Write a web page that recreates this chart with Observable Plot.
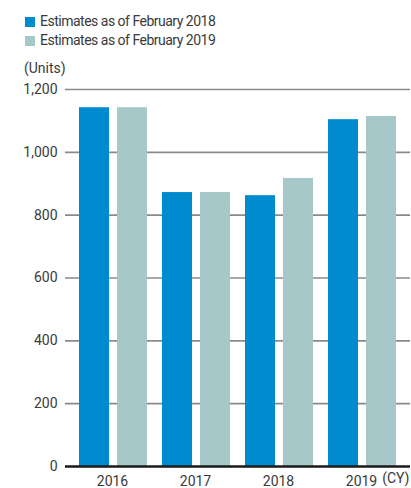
<!DOCTYPE html>
<html>
<head>
<meta charset="utf-8">
<script src="https://cdn.jsdelivr.net/npm/d3@7"></script>
<script src="https://cdn.jsdelivr.net/npm/@observablehq/plot@0.6"></script>
<style>
  html, body { margin: 0; padding: 0; background: #fff; }
  body { width: 411px; height: 488px; overflow: hidden; font-family: Roboto, "Noto Sans", sans-serif; color: #3a3a3a; }
  #head { height: 78px; box-sizing: border-box; padding-top: 12px; font-size: 14px; }
  .row { display: flex; align-items: center; height: 19px; line-height: 19px; padding-left: 25px; letter-spacing: -0.5px; }
  .sw { width: 10px; height: 10px; margin-right: 5px; flex: none; }
  #units { margin-top: 9px; padding-left: 24px; height: 19px; line-height: 19px; }
  svg { display: block; }
</style>
</head>
<body>
<div id="head"></div>
<div id="chart"></div>
<script>
const years = ["2016", "2017", "2018", "2019"];
const feb2018 = [1142, 872, 862, 1104];
const feb2019 = [1142, 872, 917, 1114];
const seriesNames = ["Estimates as of February 2018", "Estimates as of February 2019"];
const seriesColors = ["#008bcf", "#a7c8c9"];
const yTicks = [0, 200, 400, 600, 800, 1000, 1200];
const unitLabel = "(Units)";
const xUnitLabel = "(CY)";

const head = document.getElementById("head");
seriesNames.forEach((name, i) => {
  const row = document.createElement("div");
  row.className = "row";
  const sw = document.createElement("span");
  sw.className = "sw";
  sw.style.background = seriesColors[i];
  const t = document.createElement("span");
  t.textContent = name;
  row.append(sw, t);
  head.append(row);
});
const u = document.createElement("div");
u.id = "units";
u.textContent = unitLabel;
head.append(u);

const rows2018 = years.map((y, i) => ({year: y, value: feb2018[i]}));
const rows2019 = years.map((y, i) => ({year: y, value: feb2019[i]}));
const textColor = "#3a3a3a";

const chart = Plot.plot({
  width: 411,
  height: 410,
  marginTop: 11,
  marginBottom: 22,
  marginLeft: 65,
  marginRight: 1,
  style: {fontFamily: "Roboto, 'Noto Sans', sans-serif", fontSize: "14px", color: textColor, background: "white"},
  x: {type: "band", domain: years, paddingInner: 0.183, paddingOuter: 0.168},
  y: {domain: [0, 1200]},
  marks: [
    Plot.ruleY(yTicks.filter(d => d > 0), {stroke: "#8a8a8a", strokeWidth: 1.7}),
    Plot.barY(rows2018, {x: "year", y: "value", fill: seriesColors[0], insetRight: 38}),
    Plot.barY(rows2019, {x: "year", y: "value", fill: seriesColors[1], insetLeft: 38}),
    Plot.ruleY([0], {stroke: "#1a1a1a", strokeWidth: 2.5}),
    Plot.axisY({ticks: yTicks, tickSize: 0, tickPadding: 8, tickFormat: d3.format(","), label: null, fill: textColor}),
    Plot.axisX({tickSize: 0, tickPadding: 10, label: null, fill: textColor, dx: -1}),
    Plot.text([xUnitLabel], {frameAnchor: "bottom-right", textAnchor: "end", dy: 16, dx: -1, fill: textColor})
  ]
});
document.getElementById("chart").append(chart);
</script>
</body>
</html>
